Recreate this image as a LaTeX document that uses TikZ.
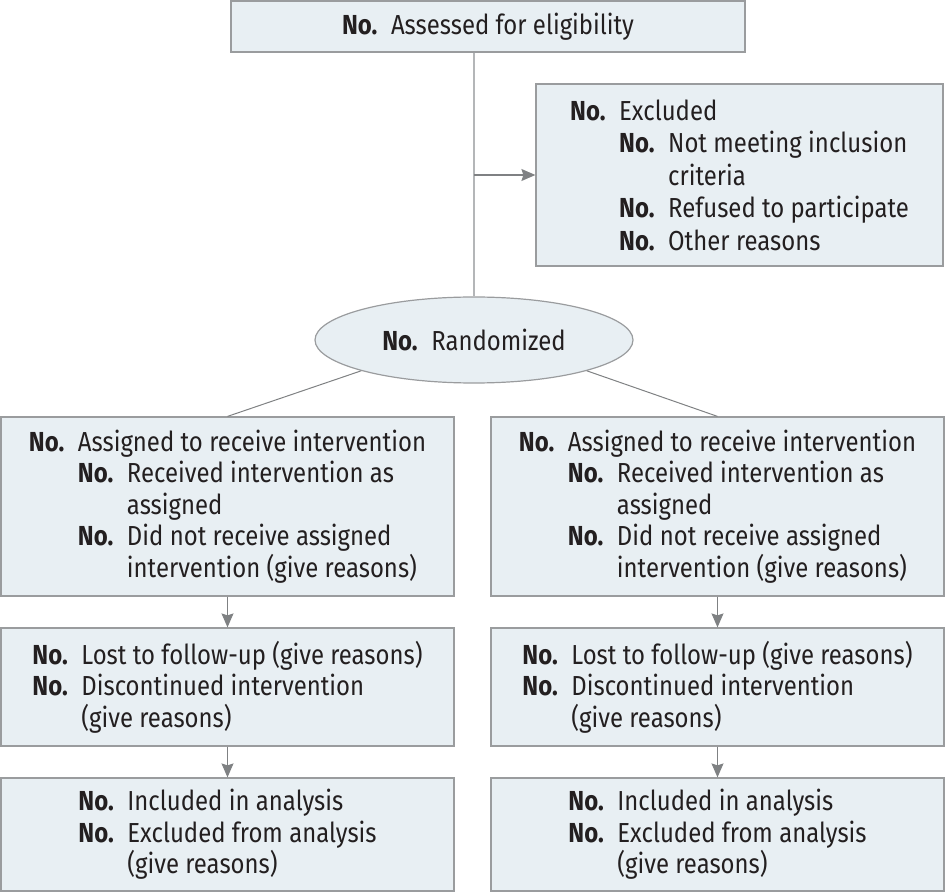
\documentclass[tikz,border=0pt]{standalone}
\usepackage{fontspec}
\setmainfont{Fira Sans}[FakeStretch=0.87]
\usepackage{tikz}
\usetikzlibrary{arrows.meta,positioning,calc,shapes.geometric}
\definecolor{flowfill}{HTML}{E8EFF3}
\definecolor{flowdraw}{HTML}{9A9C9E}
\definecolor{flowline}{HTML}{B4B6B8}
\definecolor{flowarrow}{HTML}{7F8183}
\definecolor{flowtext}{HTML}{231F20}
\newcommand{\No}{\makebox[49pt][l]{\textbf{No.}}}
\newcommand{\Ind}{\hspace*{49pt}}

\begin{document}
\begin{tikzpicture}[
 x=1pt,y=-1pt,
 box/.style={draw=flowdraw,fill=flowfill,line width=1.2pt,inner sep=0pt,align=left,text=flowtext,font=\fontsize{27.5}{31.5}\selectfont},
 oval/.style={box,ellipse,align=center},
 link/.style={flowarrow,line width=1pt},
 a/.style={-{Stealth[length=14pt,width=12pt,inset=2pt]},flowarrow,line width=1.2pt}
]
\useasboundingbox (0,0) rectangle (946,893);
% enrollment
\node[box,minimum width=514pt,minimum height=51pt] (elig) at (488,26.5) {\No Assessed for eligibility};
\node[box,minimum width=407pt,minimum height=182pt,font=\fontsize{27.5}{32.5}\selectfont] (excl) at (739.5,175) {\No Excluded\\
 \Ind\No Not meeting inclusion\\
 \Ind\Ind criteria\\
 \Ind\No Refused to participate\\
 \Ind\No Other reasons};
\node[oval,minimum width=318pt,minimum height=86pt] (rand) at (474,340) {\No Randomized};
% allocation
\node[box,minimum width=453pt,minimum height=179pt] (allocA) at (227.5,506.5) {\No Assigned to receive intervention\\
 \Ind\No Received intervention as\\
 \Ind\Ind assigned\\
 \Ind\No Did not receive assigned\\
 \Ind\Ind intervention (give reasons)};
\node[box,minimum width=453pt,minimum height=179pt] (allocB) at (717.5,506.5) {\No Assigned to receive intervention\\
 \Ind\No Received intervention as\\
 \Ind\Ind assigned\\
 \Ind\No Did not receive assigned\\
 \Ind\Ind intervention (give reasons)};
% follow-up
\node[box,minimum width=453pt,minimum height=118pt] (followA) at (227.5,687) {\No Lost to follow-up (give reasons)\\
 \No Discontinued intervention\\
 \Ind(give reasons)};
\node[box,minimum width=453pt,minimum height=118pt] (followB) at (717.5,687) {\No Lost to follow-up (give reasons)\\
 \No Discontinued intervention\\
 \Ind(give reasons)};
% analysis
\node[box,minimum width=453pt,minimum height=113pt] (analA) at (227.5,834.5) {\No Included in analysis\\
 \No Excluded from analysis\\
 \Ind(give reasons)};
\node[box,minimum width=453pt,minimum height=113pt] (analB) at (717.5,834.5) {\No Included in analysis\\
 \No Excluded from analysis\\
 \Ind(give reasons)};
% connectors
\draw[flowline,line width=1.6pt] (rand.north |- elig.south) -- (rand.north);
\draw[a] (rand.north |- excl.west) -- (excl.west);
\draw[link] (rand.south west) -- (allocA.north);
\draw[link] (rand.south east) -- (allocB.north);
\draw[a] (allocA) -- (followA);
\draw[a] (allocB) -- (followB);
\draw[a] (followA) -- (analA);
\draw[a] (followB) -- (analB);
\end{tikzpicture}
\end{document}
